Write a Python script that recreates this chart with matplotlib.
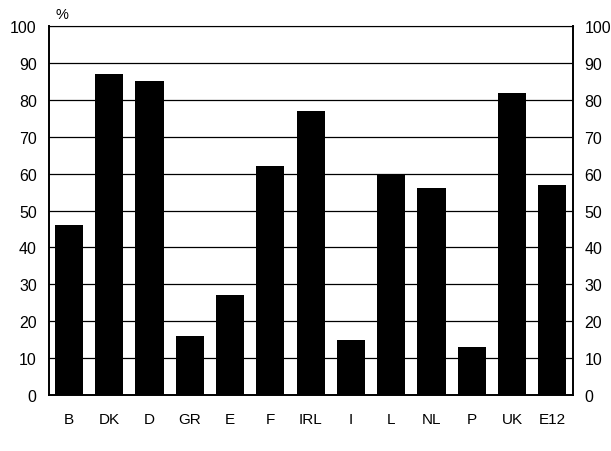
import matplotlib.pyplot as plt
import numpy as np

countries = ['B', 'DK', 'D', 'GR', 'E', 'F', 'IRL', 'I', 'L', 'NL', 'P', 'UK', 'E12']
share = [46, 87, 85, 16, 27, 62, 77, 15, 60, 56, 13, 82, 57]
yticks = [0, 10, 20, 30, 40, 50, 60, 70, 80, 90, 100]

plt.rcParams['font.family'] = ['Liberation Sans', 'DejaVu Sans']

fig = plt.figure(figsize=(6.11, 4.52), dpi=100)
ax = fig.add_axes([0.0794, 0.124, 0.858, 0.816])

x = np.arange(len(countries))
ax.bar(x, share, width=0.7, color='black', zorder=3)

ax.set_xlim(-0.51, len(countries) - 0.49)
ax.set_ylim(0, 100)
ax.set_yticks(yticks)
ax.set_xticks(x, countries, fontsize=11)
ax.yaxis.grid(True, color='black', linewidth=0.9, zorder=0)

ax.tick_params(axis='y', length=0, pad=8.5, labelsize=11.5,
               left=True, right=True, labelleft=True, labelright=True)
ax.tick_params(axis='x', length=0, pad=12)

for side in ['left', 'right', 'bottom']:
    ax.spines[side].set_linewidth(1.4)
ax.spines['top'].set_linewidth(0.8)

fig.text(0.101, 0.966, '%', fontsize=10.5, ha='center', va='center')

plt.savefig('out.png')
